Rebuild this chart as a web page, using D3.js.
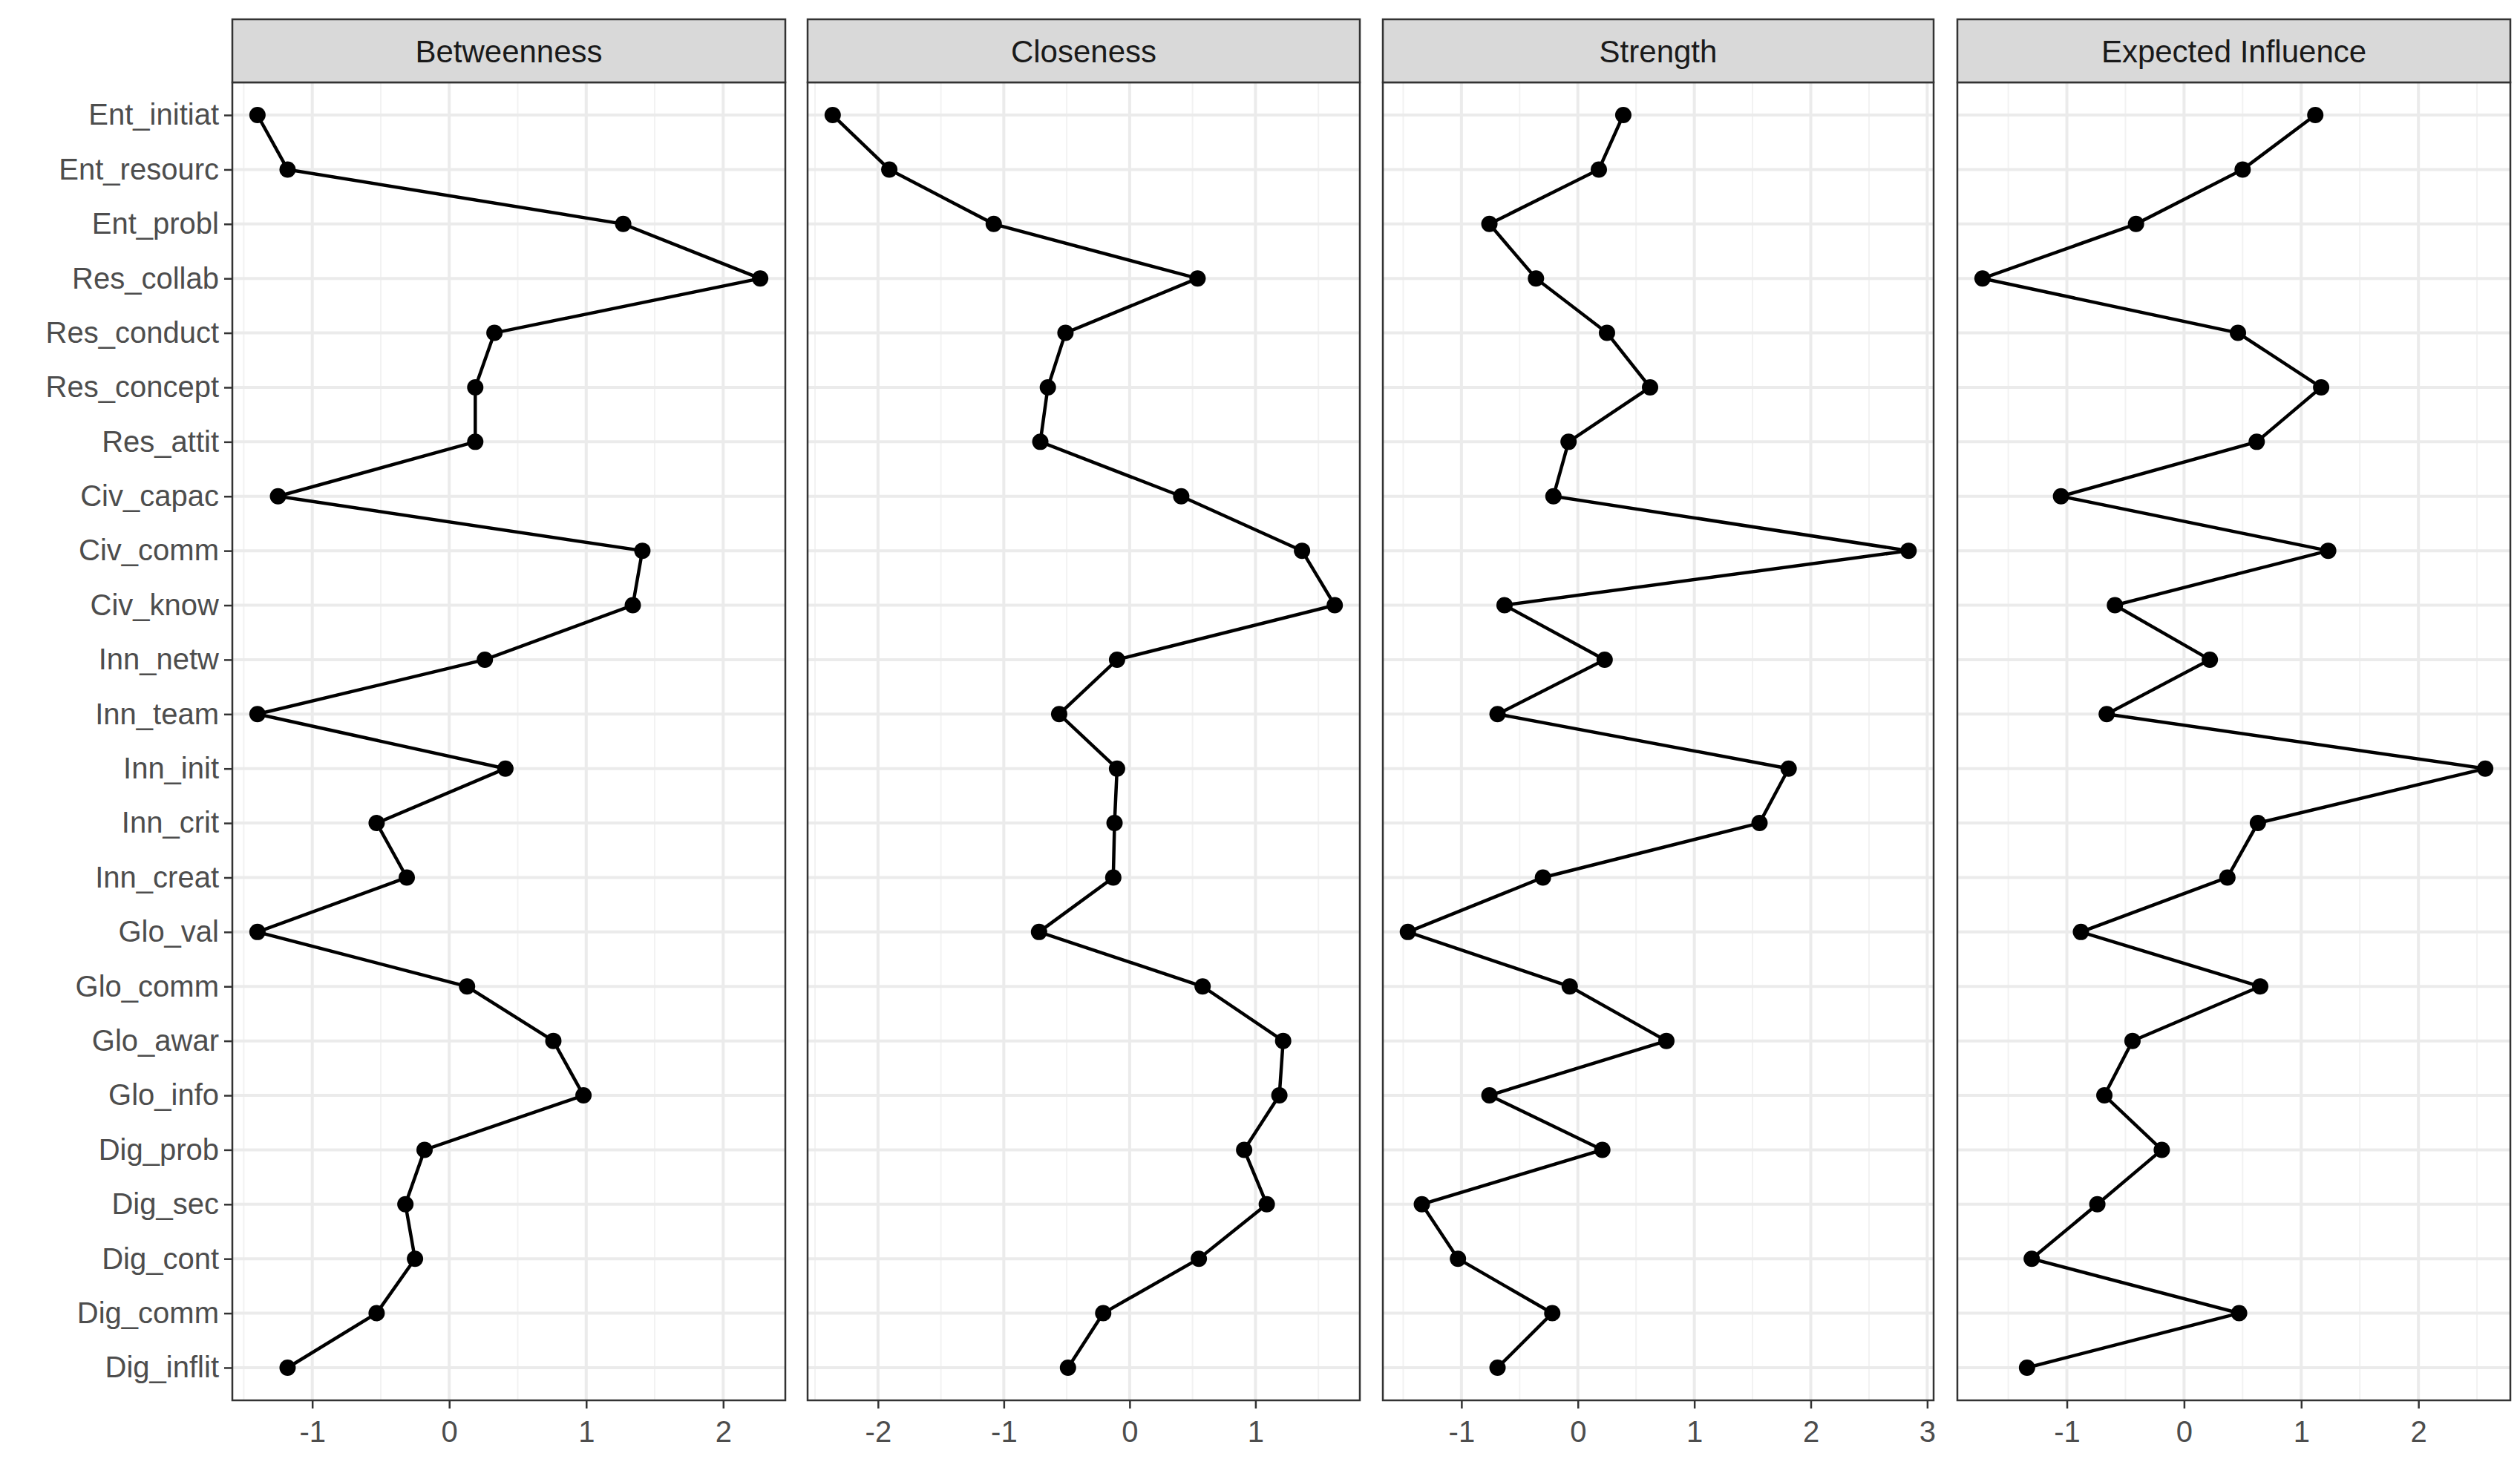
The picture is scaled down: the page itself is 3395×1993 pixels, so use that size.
<!DOCTYPE html>
<html><head><meta charset="utf-8">
<script src="https://cdn.jsdelivr.net/npm/d3@7"></script>
<style>body{margin:0;background:#fff}</style></head>
<body><svg id="c" width="3395" height="1993"></svg>
<script>
const nodes=["Ent_initiat","Ent_resourc","Ent_probl","Res_collab","Res_conduct","Res_concept","Res_attit","Civ_capac","Civ_comm","Civ_know","Inn_netw","Inn_team","Inn_init","Inn_crit","Inn_creat","Glo_val","Glo_comm","Glo_awar","Glo_info","Dig_prob","Dig_sec","Dig_cont","Dig_comm","Dig_inflit"];
const measures=["Betweenness","Closeness","Strength","Expected Influence"];
const betweenness=[-1.40,-1.18,1.27,2.27,0.33,0.19,0.19,-1.25,1.41,1.34,0.26,-1.40,0.41,-0.53,-0.31,-1.40,0.13,0.76,0.98,-0.18,-0.32,-0.25,-0.53,-1.18];
const closeness=[-2.36,-1.91,-1.08,0.54,-0.51,-0.65,-0.71,0.41,1.37,1.63,-0.10,-0.56,-0.10,-0.12,-0.13,-0.72,0.58,1.22,1.19,0.91,1.09,0.55,-0.21,-0.49];
const strength=[0.39,0.18,-0.76,-0.36,0.25,0.62,-0.08,-0.21,2.84,-0.63,0.23,-0.69,1.81,1.56,-0.30,-1.46,-0.07,0.76,-0.76,0.21,-1.34,-1.03,-0.22,-0.69];
const expectedInfluence=[1.12,0.50,-0.41,-1.72,0.46,1.17,0.62,-1.05,1.23,-0.59,0.22,-0.66,2.57,0.63,0.37,-0.88,0.65,-0.44,-0.68,-0.19,-0.74,-1.30,0.47,-1.34];
const series=[betweenness,closeness,strength,expectedInfluence];

const svg=d3.select("#c");
const panels=[[313,1058],[1088,1832],[1863,2605],[2637,3382]];
const pTop=111, pBottom=1887, stripTop=26;
const n=nodes.length, step=(pBottom-pTop)/(n-1+1.2);
const y=d3.scalePoint().domain(nodes).range([pTop+0.6*step,pBottom-0.6*step]);
const font="Liberation Sans, Arial, sans-serif";

series.forEach((vals,i)=>{
  const [x0,x1]=panels[i];
  const ext=d3.extent(vals), pad=(ext[1]-ext[0])*0.05;
  const x=d3.scaleLinear().domain([ext[0]-pad,ext[1]+pad]).range([x0,x1]);
  const g=svg.append("g");
  const major=x.ticks(5), minor=d3.range(Math.floor(x.domain()[0])-0.5,x.domain()[1],1).filter(v=>v>x.domain()[0]&&v<x.domain()[1]);
  g.selectAll(".mn").data(minor).join("line").attr("x1",d=>x(d)).attr("x2",d=>x(d)).attr("y1",pTop).attr("y2",pBottom).attr("stroke","#f2f2f2").attr("stroke-width",2);
  g.selectAll(".mj").data(major).join("line").attr("x1",d=>x(d)).attr("x2",d=>x(d)).attr("y1",pTop).attr("y2",pBottom).attr("stroke","#ebebeb").attr("stroke-width",4);
  g.selectAll(".hy").data(nodes).join("line").attr("x1",x0).attr("x2",x1).attr("y1",d=>y(d)).attr("y2",d=>y(d)).attr("stroke","#ebebeb").attr("stroke-width",4);
  const pts=nodes.map((d,j)=>[x(vals[j]),y(d)]);
  g.append("path").attr("d",d3.line()(pts)).attr("fill","none").attr("stroke","#000").attr("stroke-width",4.5);
  g.selectAll("circle").data(pts).join("circle").attr("cx",d=>d[0]).attr("cy",d=>d[1]).attr("r",11).attr("fill","#000");
  g.append("rect").attr("x",x0).attr("y",pTop).attr("width",x1-x0).attr("height",pBottom-pTop).attr("fill","none").attr("stroke","#333").attr("stroke-width",2.5);
  g.append("rect").attr("x",x0).attr("y",stripTop).attr("width",x1-x0).attr("height",pTop-stripTop).attr("fill","#d9d9d9").attr("stroke","#333").attr("stroke-width",2.5);
  g.append("text").attr("x",(x0+x1)/2).attr("y",(stripTop+pTop)/2).attr("dy","0.36em").attr("text-anchor","middle").attr("font-family",font).attr("font-size",42).attr("fill","#1a1a1a").text(measures[i]);
  const ax=g.append("g").attr("transform",`translate(0,${pBottom})`).call(d3.axisBottom(x).ticks(5).tickSize(11).tickSizeOuter(0));
  ax.select(".domain").remove();
  ax.selectAll("line").attr("stroke","#333").attr("stroke-width",2.5);
  ax.selectAll("text").attr("font-family",font).attr("font-size",40).attr("fill","#4d4d4d").attr("dy","1.05em").text(d=>String(d));
  if(i===0){
    const ay=g.append("g").attr("transform",`translate(${x0},0)`).call(d3.axisLeft(y).tickSize(11));
    ay.select(".domain").remove();
    ay.selectAll("line").attr("stroke","#333").attr("stroke-width",2.5);
    ay.selectAll("text").attr("font-family",font).attr("font-size",40).attr("fill","#4d4d4d").attr("x",-18);
  }
});
</script></body></html>
